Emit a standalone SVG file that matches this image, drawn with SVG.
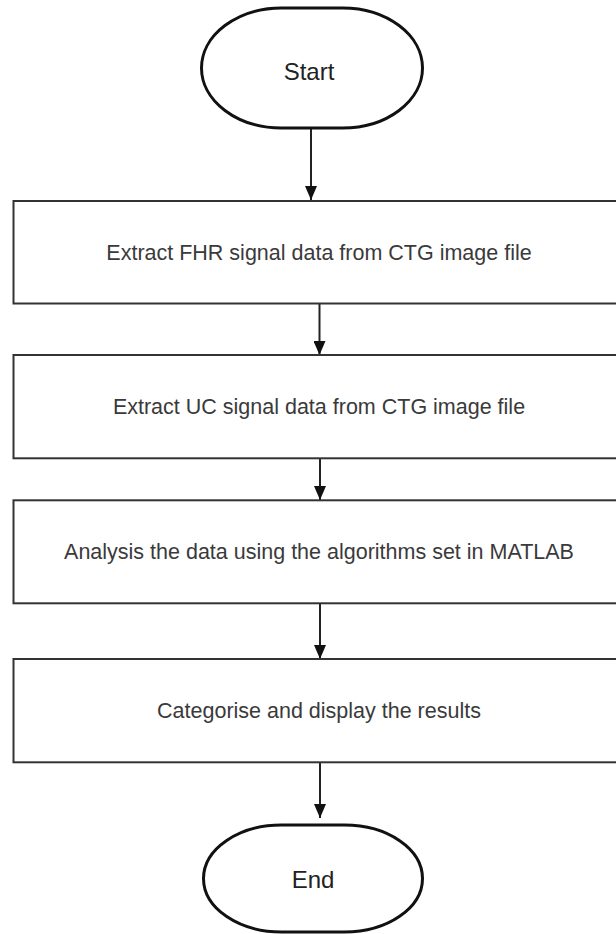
<svg xmlns="http://www.w3.org/2000/svg" width="616" height="934" viewBox="0 0 616 934">
<style>
.term{fill:#fff;stroke:#111;stroke-width:3}
.box{fill:#fff;stroke:#333;stroke-width:2}
.lbl{font-family:"Liberation Sans",Arial,sans-serif;font-size:21.5px;fill:#3a3a3a;text-anchor:middle}
.tlbl{font-family:"Liberation Sans",Arial,sans-serif;font-size:24px;fill:#222;text-anchor:middle}
.conn{stroke:#222;stroke-width:2;fill:none;marker-end:url(#ah)}
</style>
<defs>
<marker id="ah" markerWidth="14" markerHeight="12" refX="14" refY="6" orient="auto" markerUnits="userSpaceOnUse" viewBox="0 0 14 12">
<path d="M0,0 L14,6 L0,12 Z" fill="#111"/>
</marker>
</defs>
<rect width="616" height="934" fill="#fff"/>
<g id="connectors">
<line class="conn" x1="311" y1="129" x2="311" y2="200"/>
<line class="conn" x1="319.5" y1="304" x2="319.5" y2="355"/>
<line class="conn" x1="320" y1="459" x2="320" y2="500"/>
<line class="conn" x1="320" y1="604" x2="320" y2="659"/>
<line class="conn" x1="320" y1="763" x2="320" y2="818"/>
</g>
<g id="start">
<rect class="term" x="201.5" y="8" width="221" height="120" rx="80" ry="60"/>
<text class="tlbl" x="309" y="80">Start</text>
</g>
<g id="step1">
<rect class="box" x="13.5" y="201" width="611" height="102.5"/>
<text class="lbl" x="319" y="260">Extract FHR signal data from CTG image file</text>
</g>
<g id="step2">
<rect class="box" x="13.5" y="355" width="611" height="103.3"/>
<text class="lbl" x="319" y="414">Extract UC signal data from CTG image file</text>
</g>
<g id="step3">
<rect class="box" x="13.5" y="500.3" width="611" height="103"/>
<text class="lbl" x="319" y="559">Analysis the data using the algorithms set in MATLAB</text>
</g>
<g id="step4">
<rect class="box" x="13.5" y="659" width="611" height="103.3"/>
<text class="lbl" x="319" y="718">Categorise and display the results</text>
</g>
<g id="end">
<rect class="term" x="203.5" y="825" width="219" height="107" rx="78" ry="53.5"/>
<text class="tlbl" x="313" y="888">End</text>
</g>
</svg>
